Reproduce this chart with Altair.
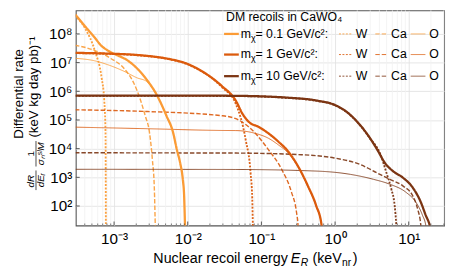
import altair as alt
import pandas as pd

FONT = "Liberation Sans"

MASSES = ["0.1", "1", "10"]
MASS_COLORS = ["#fb9b35", "#db5a0c", "#7b3412"]
COMPONENTS = ["total", "W", "Ca", "O"]
COMP_DASH = [[1, 0], [2, 1.5], [4.5, 2], [1, 0]]
COMP_WIDTH = [2.3, 1.0, 1.0, 1.0]
COMP_OPACITY = [1.0, 0.85, 0.85, 0.7]

# axis limits (log10 of keV_nr and of rate)
X_LOG_LIM = [-3.52, 1.48]
Y_LOG_LIM = [1.322, 8.822]
X_MAJOR = [1e-3, 1e-2, 1e-1, 1, 10]
Y_MAJOR = [1e2, 1e3, 1e4, 1e5, 1e6, 1e7, 1e8]

# ---- curves: log10(E_R/keV) and log10(rate) ----
m01_total_logE = [-3.53, -3.40, -3.267, -3.177, -3.089, -2.956, -2.823, -2.689, -2.556, -2.423, -2.289, -2.20, -2.147, -2.103, -2.067, -2.049, -2.036, -2.03]
m01_total_logR = [8.69, 8.284, 7.887, 7.599, 7.428, 7.257, 7.086, 6.801, 6.401, 5.887, 5.147, 4.575, 3.959, 3.503, 2.932, 2.360, 1.288, 1.0]
m01_W_logE = [-3.53, -3.391, -3.257, -3.169, -3.133, -3.116, -3.113, -3.111, -3.108]
m01_W_logR = [8.64, 8.182, 7.384, 6.469, 5.671, 4.531, 2.932, 1.288, 1.0]
m01_Ca_logE = [-3.53, -3.267, -3.044, -2.867, -2.733, -2.644, -2.577, -2.52, -2.48, -2.453, -2.44, -2.436]
m01_Ca_logR = [7.605, 7.428, 7.144, 6.801, 6.288, 5.716, 5.147, 4.575, 3.616, 2.589, 1.288, 1.0]
m01_O_logE = [-3.53, -3.267, -3.089, -2.867, -2.689, -2.556, -2.423, -2.289, -2.20, -2.147, -2.103, -2.067, -2.049, -2.036, -2.03]
m01_O_logR = [7.15, 7.065, 6.93, 6.70, 6.47, 6.34, 5.86, 5.13, 4.55, 3.93, 3.48, 2.91, 2.35, 1.28, 1.0]

m1_total_logE = [-3.53, -3.089, -2.644, -2.289, -2.023, -1.8, -1.667, -1.533, -1.347, -1.257, -1.169, -1.036, -0.903, -0.769, -0.636, -0.503, -0.369, -0.257, -0.183, -0.167]
m1_total_logR = [7.34, 7.315, 7.257, 7.144, 6.973, 6.688, 6.459, 6.175, 5.671, 5.216, 4.928, 4.757, 4.531, 4.243, 3.901, 3.387, 2.702, 2.017, 1.332, 1.0]
m1_W_logE = [-3.53, -3.089, -2.644, -2.289, -2.023, -1.8, -1.667, -1.533, -1.347, -1.213, -1.147, -1.124, -1.116, -1.112]
m1_W_logR = [7.33, 7.305, 7.247, 7.134, 6.963, 6.678, 6.449, 6.14, 5.558, 4.301, 3.161, 2.247, 1.332, 1.0]
m1_Ca_logE = [-3.53, -2.547, -1.533, -1.347, -1.08, -0.903, -0.724, -0.591, -0.524, -0.503, -0.497]
m1_Ca_logR = [5.355, 5.295, 5.147, 5.045, 4.531, 3.959, 3.274, 2.476, 1.791, 1.332, 1.05]
m1_O_logE = [-3.53, -2.547, -1.533, -1.347, -1.08, -0.903, -0.769, -0.636, -0.503, -0.369, -0.257, -0.183, -0.167]
m1_O_logR = [4.75, 4.695, 4.634, 4.63, 4.531, 4.36, 4.13, 3.846, 3.36, 2.675, 1.99, 1.32, 1.0]

m10_total_logE = [-3.53, -2.0, -1.347, -0.68, -0.236, -0.013, 0.164, 0.343, 0.476, 0.587, 0.676, 0.787, 0.92, 1.053, 1.164, 1.231, 1.284, 1.307]
m10_total_logR = [5.853, 5.85, 5.842, 5.784, 5.671, 5.534, 5.271, 4.815, 4.36, 3.901, 3.503, 3.216, 2.99, 2.647, 2.134, 1.675, 1.332, 1.05]
m10_W_logE = [-3.53, -2.0, -1.347, -0.68, -0.236, -0.013, 0.164, 0.343, 0.476, 0.609, 0.697, 0.764, 0.809, 0.831, 0.837]
m10_W_logR = [5.843, 5.84, 5.832, 5.774, 5.661, 5.524, 5.261, 4.805, 4.35, 3.846, 3.161, 2.589, 2.017, 1.332, 1.05]
m10_Ca_logE = [-3.53, -1.347, -0.457, -0.013, 0.343, 0.564, 0.743, 0.92, 1.053, 1.12, 1.164, 1.173]
m10_Ca_logR = [3.856, 3.846, 3.788, 3.675, 3.445, 3.161, 2.932, 2.702, 2.36, 1.904, 1.332, 1.05]
m10_O_logE = [-3.53, -1.347, -0.236, 0.209, 0.52, 0.743, 0.964, 1.097, 1.187, 1.231, 1.247]
m10_O_logR = [3.28, 3.274, 3.216, 3.103, 2.932, 2.76, 2.476, 2.134, 1.675, 1.332, 1.05]

CURVES = [
    ("0.1", "total", m01_total_logE, m01_total_logR),
    ("0.1", "W", m01_W_logE, m01_W_logR),
    ("0.1", "Ca", m01_Ca_logE, m01_Ca_logR),
    ("0.1", "O", m01_O_logE, m01_O_logR),
    ("1", "total", m1_total_logE, m1_total_logR),
    ("1", "W", m1_W_logE, m1_W_logR),
    ("1", "Ca", m1_Ca_logE, m1_Ca_logR),
    ("1", "O", m1_O_logE, m1_O_logR),
    ("10", "total", m10_total_logE, m10_total_logR),
    ("10", "W", m10_W_logE, m10_W_logR),
    ("10", "Ca", m10_Ca_logE, m10_Ca_logR),
    ("10", "O", m10_O_logE, m10_O_logR),
]

rows = []
for mass, comp, le, lr in CURVES:
    for i, (a, b) in enumerate(zip(le, lr)):
        rows.append({"E": 10 ** a, "R": 10 ** b, "mass": mass, "comp": comp,
                     "series": mass + "-" + comp, "idx": i})
df = pd.DataFrame(rows)

minor_x = []
for d in range(-4, 2):
    for m in range(2, 10):
        v = m * 10.0 ** d
        if 10 ** X_LOG_LIM[0] < v < 10 ** X_LOG_LIM[1]:
            minor_x.append(v)

W, H = 375, 219

xscale = alt.Scale(type="log", domain=[10 ** X_LOG_LIM[0], 10 ** X_LOG_LIM[1]], nice=False)
yscale = alt.Scale(type="log", domain=[10 ** Y_LOG_LIM[0], 10 ** Y_LOG_LIM[1]], nice=False)

x_label_expr = ("datum.value < 0.003 ? '10⁻³' : datum.value < 0.03 ? '10⁻²' : "
                "datum.value < 0.3 ? '10⁻¹' : datum.value < 3 ? '10⁰' : '10¹'")
y_label_expr = ("datum.value < 300 ? '10²' : datum.value < 3000 ? '10³' : "
                "datum.value < 30000 ? '10⁴' : datum.value < 300000 ? '10⁵' : "
                "datum.value < 3000000 ? '10⁶' : datum.value < 30000000 ? '10⁷' : '10⁸'")

xaxis = alt.Axis(values=X_MAJOR, labelExpr=x_label_expr, grid=True, gridColor="#e3e3e3",
                 gridWidth=0.9, ticks=False, domain=False, title=None, labelFont=FONT,
                 labelFontSize=15.5, labelPadding=6, labelColor="black", labelFlush=False)
yaxis = alt.Axis(values=Y_MAJOR, labelExpr=y_label_expr, grid=True, gridColor="#e3e3e3",
                 gridWidth=0.9, ticks=False, domain=False, title=None, labelFont=FONT,
                 labelFontSize=15.5, labelPadding=4, labelColor="black", labelFlush=False)


def X(field):
    return alt.X(field, type="quantitative", scale=xscale, axis=xaxis)


def Y(field):
    return alt.Y(field, type="quantitative", scale=yscale, axis=yaxis)


color_enc = alt.Color("mass:N", scale=alt.Scale(domain=MASSES, range=MASS_COLORS), legend=None)
dash_enc = alt.StrokeDash("comp:N", scale=alt.Scale(domain=COMPONENTS, range=COMP_DASH), legend=None)
width_enc = alt.StrokeWidth("comp:N", scale=alt.Scale(domain=COMPONENTS, range=COMP_WIDTH), legend=None)
opac_enc = alt.Opacity("comp:N", scale=alt.Scale(domain=COMPONENTS, range=COMP_OPACITY), legend=None)

layers = []

# minor vertical grid
layers.append(
    alt.Chart(pd.DataFrame({"v": minor_x})).mark_rule(color="#f1f1f1", strokeWidth=0.8)
    .encode(x=X("v"))
)
# the axis carrier (major grid + labels)
layers.append(
    alt.Chart(df).mark_point(opacity=0).encode(x=X("E"), y=Y("R"))
)

for sub, comps in [("comp", ["W", "Ca", "O"]), ("total", ["total"])]:
    layers.append(
        alt.Chart(df[df["comp"].isin(comps)]).mark_line(clip=True, interpolate="monotone")
        .encode(x=X("E"), y=Y("R"), color=color_enc, strokeDash=dash_enc,
                strokeWidth=width_enc, opacity=opac_enc, detail="series:N",
                order=alt.Order("idx:Q"))
    )

# inward ticks
layers.append(
    alt.Chart(pd.DataFrame({"v": X_MAJOR})).mark_rule(color="#444", strokeWidth=0.9)
    .encode(x=X("v"), y=alt.value(H), y2=alt.value(H - 4))
)
layers.append(
    alt.Chart(pd.DataFrame({"v": minor_x})).mark_rule(color="#444", strokeWidth=0.7)
    .encode(x=X("v"), y=alt.value(H), y2=alt.value(H - 2))
)
layers.append(
    alt.Chart(pd.DataFrame({"v": Y_MAJOR})).mark_rule(color="#444", strokeWidth=0.9)
    .encode(y=Y("v"), x=alt.value(0), x2=alt.value(4))
)

one = pd.DataFrame({"k": [0]})


def text(t, px, py, size=12, align="left", angle=None, style=None, baseline="middle"):
    kw = dict(text=t, align=align, baseline=baseline, font=FONT, fontSize=size, color="black")
    if angle is not None:
        kw["angle"] = angle
    if style is not None:
        kw["fontStyle"] = style
    return alt.Chart(one).mark_text(**kw).encode(x=alt.value(px), y=alt.value(py))


def seg(px1, px2, py, color, width, dash=None, opacity=1.0):
    kw = dict(color=color, strokeWidth=width, opacity=opacity)
    if dash is not None:
        kw["strokeDash"] = dash
    return alt.Chart(one).mark_rule(**kw).encode(x=alt.value(px1), x2=alt.value(px2), y=alt.value(py))


# legend
layers.append(text("DM recoils in CaWO₄", 153, 7, size=12.5))
row_y = [24, 45, 67]
for mass, col, ry in zip(MASSES, MASS_COLORS, row_y):
    layers.append(seg(151, 166, ry, col, COMP_WIDTH[0]))
    layers.append(text("m", 168, ry, size=12.5))
    layers.append(text("χ", 178.5, ry + 4, size=9))
    layers.append(text("= " + mass + " GeV/c²:", 183, ry, size=12.5))
    layers.append(seg(268, 281, ry, col, 1.0, COMP_DASH[1], COMP_OPACITY[1]))
    layers.append(text("W", 285, ry, size=12.5))
    layers.append(seg(305, 318, ry, col, 1.0, COMP_DASH[2], COMP_OPACITY[2]))
    layers.append(text("Ca", 321, ry, size=12.5))
    layers.append(seg(341, 356, ry, col, 1.0, None, COMP_OPACITY[3]))
    layers.append(text("O", 360, ry, size=12.5))

# x title
xt_y = H + 38
layers.append(text("Nuclear recoil energy", 79, xt_y, size=14.5, baseline="alphabetic"))
layers.append(text("E", 219, xt_y, size=14.5, style="italic", baseline="alphabetic"))
layers.append(text("R", 229, xt_y + 3, size=10.5, style="italic", baseline="alphabetic"))
layers.append(text("(keV", 241, xt_y, size=14.5, baseline="alphabetic"))
layers.append(text("nr", 271, xt_y + 3, size=10.5, baseline="alphabetic"))
layers.append(text(")", 282, xt_y, size=14.5, baseline="alphabetic"))

# y title
layers.append(text("Differential rate", -58, 85, size=13.5, align="center", angle=270))
layers.append(text("(keV kg day pb)⁻¹", -42, 78, size=13.5, align="center", angle=270))
layers.append(text("dR", -46, 174, size=10, align="center", angle=270, style="italic"))
layers.append(text("dEᵣ", -35.5, 173, size=10, align="center", angle=270, style="italic"))
layers.append(alt.Chart(one).mark_rule(color="black", strokeWidth=0.7)
              .encode(x=alt.value(-40.5), y=alt.value(163), y2=alt.value(183)))
layers.append(text("1", -46, 146, size=10, align="center", angle=270))
layers.append(text("σₙˢᴵM", -35.5, 146, size=10, align="center", angle=270, style="italic"))
layers.append(alt.Chart(one).mark_rule(color="black", strokeWidth=0.7)
              .encode(x=alt.value(-40.5), y=alt.value(133), y2=alt.value(159)))

chart = alt.layer(*layers).properties(
    width=W, height=H,
    autosize=alt.AutoSizeParams(type="none"),
    padding={"left": 69, "top": 0, "right": 5, "bottom": 46},
).configure_view(stroke="#555", strokeWidth=1.1)

chart.save("out.html", embed_options={"renderer": "svg", "actions": False})
